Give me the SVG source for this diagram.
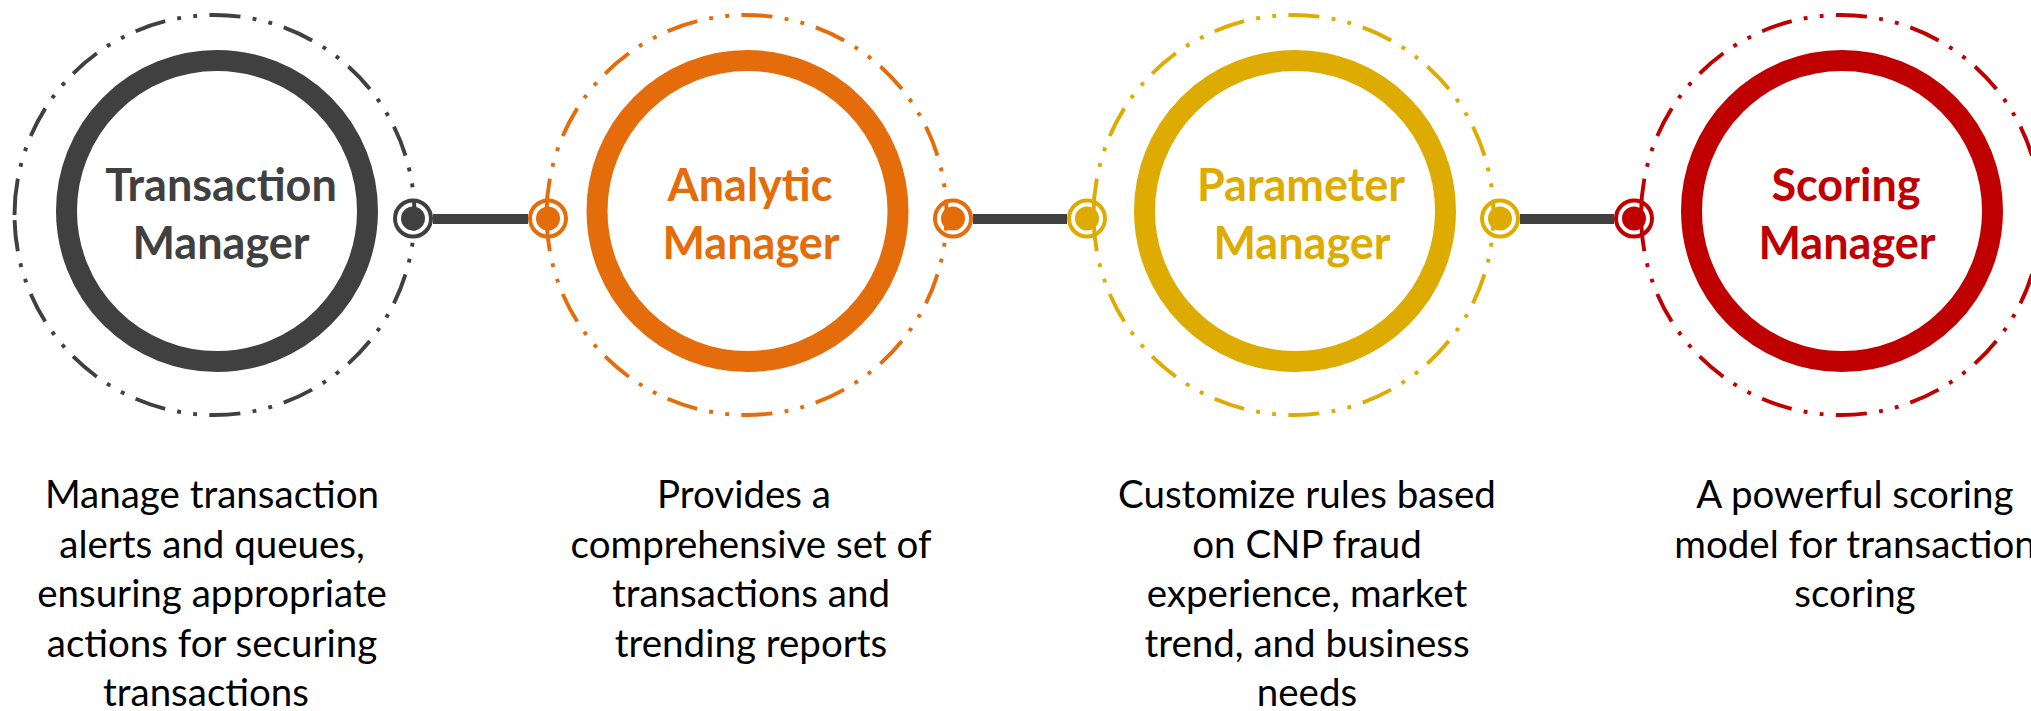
<svg xmlns="http://www.w3.org/2000/svg" width="2031" height="711" viewBox="0 0 2031 711">
<style>
  .dash { fill: none; stroke-width: 3.9; stroke-linecap: butt;
    stroke-dasharray: 36.5 12.3 3.9 12.3 3.9 12.3 31.2 12.3 3.9 12.3 3.9 12.3 31.2 12.3 3.9 12.3 3.9 12.3 31.2 12.3 3.9 12.3 3.9 12.3 31.2 12.3 3.9 12.3 3.9 12.3 31.2 12.3 3.9 12.3 3.9 12.3 31.2 12.3 3.9 12.3 3.9 12.3 31.2 12.3 3.9 12.3 3.9 12.3 31.2 12.3 3.9 12.3 3.9 12.3 31.2 12.3 3.9 12.3 3.9 12.3 31.2 12.3 3.9 12.3 3.9 12.3 31.2 12.3 3.9 12.3 3.9 12.3 31.2 12.3 3.9 12.3 3.9 12.3 31.2 12.3 3.9 12.3 3.9 12.3 31.2 12.3 3.9 12.3 3.9 12.3 31.2 12.3 3.9 12.3 3.9 12.3 31.2 12.3 3.9 12.3 3.9 12.3 36.5 60; }
  .ring { fill: none; stroke-width: 21; }
  .pin { fill: none; stroke-width: 4; }
  .title { font-family: Lato, "Liberation Sans", sans-serif; font-weight: 700; font-size: 45px; text-anchor: middle; }
  .desc { font-family: Lato, "Liberation Sans", sans-serif; font-size: 38.5px; text-anchor: middle; fill: #000000; }
  .dark { stroke: #404040; } .darkf { fill: #404040; }
  .orange { stroke: #E46C0A; } .orangef { fill: #E46C0A; }
  .gold { stroke: #DEAB00; } .goldf { fill: #DEAB00; }
  .red { stroke: #C00000; } .redf { fill: #C00000; }
</style>

<g id="connectors">
  <line x1="433" y1="219" x2="528" y2="219" stroke="#404040" stroke-width="10"/>
  <line x1="973" y1="219" x2="1067" y2="219" stroke="#404040" stroke-width="10"/>
  <line x1="1520" y1="219" x2="1614" y2="219" stroke="#404040" stroke-width="10"/>
</g>

<g id="node-transaction">
  <path class="dash dark" d="M14.5,215 A200,200 0 1 1 414.5,215 A200,200 0 1 1 14.5,215"/>
  <circle class="ring dark" cx="217" cy="211" r="150.5"/>
  <text class="title darkf" x="221" y="201">Transaction</text>
  <text class="title darkf" x="221" y="259">Manager</text>
  <circle class="pin dark" cx="413" cy="218.5" r="18"/>
  <circle class="darkf" cx="413" cy="218.5" r="12"/>
  <g class="desc">
    <text x="212" y="508">Manage transaction</text>
    <text x="212" y="557.5">alerts and queues,</text>
    <text x="212" y="607">ensuring appropriate</text>
    <text x="212" y="656.5">actions for securing</text>
    <text x="206" y="706">transactions</text>
  </g>
</g>

<g id="node-analytic">
  <path class="dash orange" d="M546.5,215 A200,200 0 1 1 946.5,215 A200,200 0 1 1 546.5,215"/>
  <circle class="ring orange" cx="747.5" cy="211" r="150.5"/>
  <text class="title orangef" x="750" y="201">Analytic</text>
  <text class="title orangef" x="751" y="259">Manager</text>
  <circle class="pin orange" cx="548" cy="218.5" r="18"/>
  <circle class="orangef" cx="548" cy="218.5" r="12"/>
  <circle class="pin orange" cx="953" cy="218.5" r="18"/>
  <circle class="orangef" cx="953" cy="218.5" r="12"/>
  <g class="desc">
    <text x="744" y="508">Provides a</text>
    <text x="751" y="557.5">comprehensive set of</text>
    <text x="751" y="607">transactions and</text>
    <text x="751" y="656.5">trending reports</text>
  </g>
</g>

<g id="node-parameter">
  <path class="dash gold" d="M1093.5,215 A200,200 0 1 1 1493.5,215 A200,200 0 1 1 1093.5,215"/>
  <circle class="ring gold" cx="1295" cy="211" r="150.5"/>
  <text class="title goldf" x="1301" y="201">Parameter</text>
  <text class="title goldf" x="1302" y="259">Manager</text>
  <circle class="pin gold" cx="1087" cy="218.5" r="18"/>
  <circle class="goldf" cx="1087" cy="218.5" r="12"/>
  <circle class="pin gold" cx="1500" cy="218.5" r="18"/>
  <circle class="goldf" cx="1500" cy="218.5" r="12"/>
  <g class="desc">
    <text x="1307" y="508">Customize rules based</text>
    <text x="1307" y="557.5">on CNP fraud</text>
    <text x="1307" y="607">experience, market</text>
    <text x="1307" y="656.5">trend, and business</text>
    <text x="1307" y="706">needs</text>
  </g>
</g>

<g id="node-scoring">
  <path class="dash red" d="M1641,215 A200,200 0 1 1 2041,215 A200,200 0 1 1 1641,215"/>
  <circle class="ring red" cx="1842" cy="211" r="150.5"/>
  <text class="title redf" x="1846" y="201">Scoring</text>
  <text class="title redf" x="1847" y="259">Manager</text>
  <circle class="pin red" cx="1634" cy="218.5" r="18"/>
  <circle class="redf" cx="1634" cy="218.5" r="12"/>
  <g class="desc">
    <text x="1855" y="508">A powerful scoring</text>
    <text x="1855" y="557.5">model for transaction</text>
    <text x="1855" y="607">scoring</text>
  </g>
</g>
</svg>
